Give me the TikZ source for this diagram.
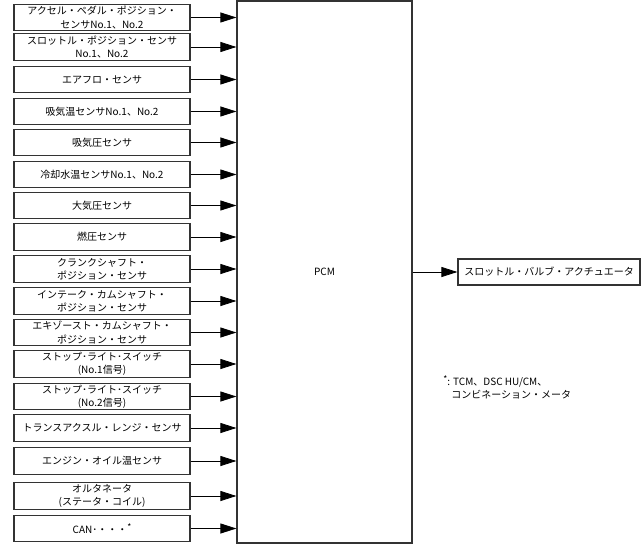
\documentclass[tikz,border=0pt]{standalone}
\usepackage{fontspec}
\setmainfont{Noto Sans CJK JP}
\usetikzlibrary{arrows.meta, positioning}

\begin{document}
\begin{tikzpicture}[x=0.75pt, y=-0.75pt, font=\fontsize{7.5}{10}\selectfont, line width=0.6pt,
    sensor/.style={draw=black!80, line width=0.9pt, minimum width=132pt, minimum height=20pt, inner sep=0pt, align=center},
    ar/.style={-{Triangle[length=12pt,width=7.5pt]}}]
    \def\sx{102}  % x centre of the input column
    \def\ast{\raisebox{2.5pt}{\fontsize{6.5}{6.5}\selectfont *}}
    \useasboundingbox (0,0) rectangle (641,545);

    % ---------- PCM ----------
    \node[draw=black!80, line width=0.9pt, minimum width=131.25pt, minimum height=406.5pt, inner sep=0pt]
      (pcm) at (324.5,272) {PCM};

    % ---------- inputs ----------
    \node[sensor] (s1) at (\sx,17.5) {アクセル・ペダル・ポジション・\\センサNo.1、No.2};
    \node[sensor] (s2) at (\sx,47) {スロットル・ポジション・センサ\\No.1、No.2};
    \node[sensor] (s3) at (\sx,79.5) {エアフロ・センサ};
    \node[sensor] (s4) at (\sx,111.5) {吸気温センサNo.1、No.2};
    \node[sensor] (s5) at (\sx,142.5) {吸気圧センサ};
    \node[sensor] (s6) at (\sx,174.5) {冷却水温センサNo.1、No.2};
    \node[sensor] (s7) at (\sx,205.5) {大気圧センサ};
    \node[sensor] (s8) at (\sx,237) {燃圧センサ};
    \node[sensor] (s9) at (\sx,269) {クランクシャフト・\\ポジション・センサ};
    \node[sensor] (s10) at (\sx,301) {インテーク・カムシャフト・\\ポジション・センサ};
    \node[sensor] (s11) at (\sx,332.5) {エキゾースト・カムシャフト・\\ポジション・センサ};
    \node[sensor] (s12) at (\sx,364) {ストップ･ライト･スイッチ\\(No.1信号)};
    \node[sensor] (s13) at (\sx,396.5) {ストップ･ライト･スイッチ\\(No.2信号)};
    \node[sensor] (s14) at (\sx,428) {トランスアクスル・レンジ・センサ};
    \node[sensor] (s15) at (\sx,461) {エンジン・オイル温センサ};
    \node[sensor] (s16) at (\sx,496) {オルタネータ\\(ステータ・コイル)};
    \node[sensor] (s17) at (\sx,528.5) {CAN･・・・\ast};

    \foreach \i in {1,...,17}
      \draw[ar] (s\i.east) -- (s\i.east -| pcm.west);

    % ---------- output ----------
    \node[sensor, minimum width=136.5pt, minimum height=19.5pt] (tva) at (549,272) {スロットル・バルブ・アクチュエータ};
    \draw[ar] (pcm.east |- tva.west) -- (tva.west);

    % ---------- footnote ----------
    \node[anchor=north west, align=left, inner sep=0pt] (note) at (443,375)
      {\ast: TCM、DSC HU/CM、\\\hspace*{6pt}コンビネーション・メータ};

\end{tikzpicture}
\end{document}
